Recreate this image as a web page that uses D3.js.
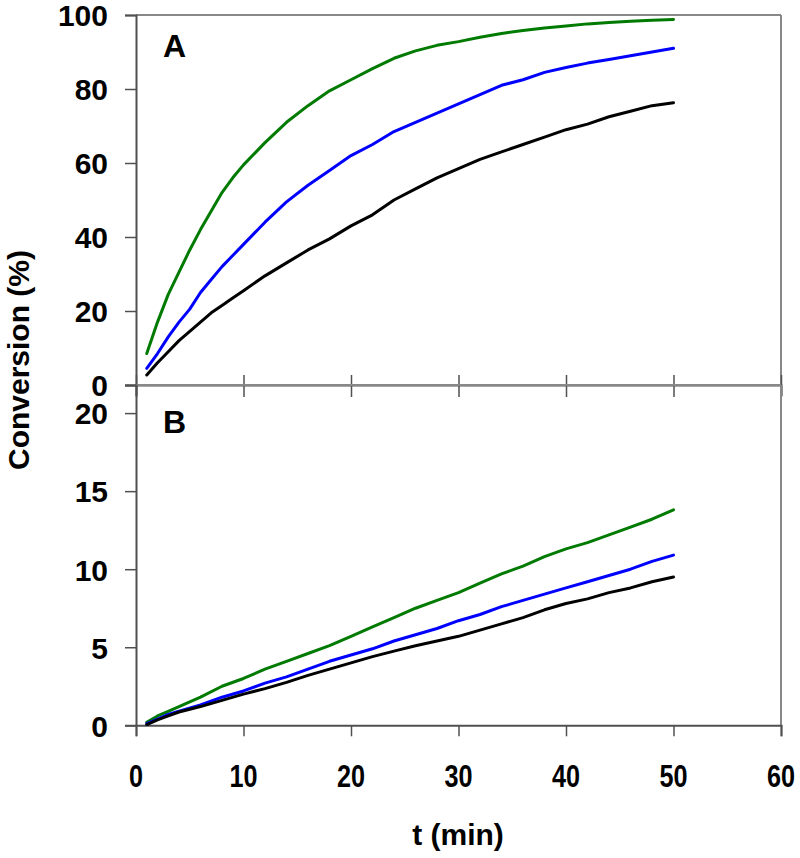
<!DOCTYPE html>
<html><head><meta charset="utf-8">
<script src="https://cdn.jsdelivr.net/npm/d3@7"></script>
<style>body{margin:0;background:#fff}svg{display:block}text{font-family:"Liberation Sans",Arial,sans-serif;font-weight:bold;fill:#000}</style>
</head><body><svg id="c" width="800" height="858"></svg>
<script>
// Panel A data (conversion %, t in min)
const tA = [1,2,3,4,5,6,7,8,9,10,12,14,16,18,20,22,24,26,28,30,32,34,36,38,40,42,44,46,48,50];
const greenA = [8.5,17,24.5,30.5,36.5,42,47,52,56,59.5,65.5,71,75.5,79.5,82.5,85.5,88.3,90.3,91.8,92.8,94,95,95.8,96.5,97,97.6,98,98.3,98.6,98.8];
const blueA  = [4.5,8.5,13,17,20.5,25,28.5,32,35,38,44,49.5,54,58,62,65,68.5,71,73.5,76,78.5,81,82.5,84.5,85.8,87,88,89,90,91];
const blackA = [2.7,6,9,12,14.5,17,19.5,21.5,23.5,25.5,29.5,33,36.5,39.5,43,46,50,53,56,58.5,61,63,65,67,69,70.5,72.5,74,75.5,76.3];
// Panel B data
const tB = [1,2,3,4,6,8,10,12,14,16,18,20,22,24,26,28,30,32,34,36,38,40,42,44,46,48,50];
const greenB = [0.2,0.6,0.9,1.2,1.8,2.5,3.0,3.6,4.1,4.6,5.1,5.7,6.3,6.9,7.5,8.0,8.5,9.1,9.7,10.2,10.8,11.3,11.7,12.2,12.7,13.2,13.8];
const blueB  = [0.1,0.4,0.7,0.9,1.3,1.8,2.2,2.7,3.1,3.6,4.1,4.5,4.9,5.4,5.8,6.2,6.7,7.1,7.6,8.0,8.4,8.8,9.2,9.6,10.0,10.5,10.9];
const blackB = [0.05,0.35,0.6,0.85,1.2,1.6,2.0,2.35,2.75,3.2,3.6,4.0,4.4,4.75,5.1,5.4,5.7,6.1,6.5,6.9,7.4,7.8,8.1,8.5,8.8,9.2,9.5];
const xTicks = [0,10,20,30,40,50,60];
const yTicksA = [0,20,40,60,80,100];
const yTicksB = [0,5,10,15,20];
const colors = ["#007a00","#0000ff","#000000"];

const svg = d3.select("#c");
const L = 136, R = 781;
const x = d3.scaleLinear().domain([0,60]).range([L,R]);
const yA = d3.scaleLinear().domain([0,100]).range([385,15]);
const yB = d3.scaleLinear().domain([0,21.8]).range([725.3,385]);

function panel(y, ticks, t, series, label, bottom, top) {
  svg.append("line").attr("x1",L).attr("x2",R).attr("y1",top).attr("y2",top).attr("stroke","#888").attr("stroke-width",2);
  svg.append("line").attr("x1",R).attr("x2",R).attr("y1",top).attr("y2",bottom).attr("stroke","#888").attr("stroke-width",2);
  const ya = svg.append("g").attr("transform",`translate(${L},0)`)
    .call(d3.axisLeft(y).tickValues(ticks).tickSize(11).tickPadding(17).tickFormat(d3.format("d")));
  ya.select(".domain").attr("stroke","#505050").attr("stroke-width",2);
  ya.selectAll(".tick line").attr("stroke","#505050").attr("stroke-width",1.5);
  ya.selectAll(".tick text").attr("font-size",30).attr("dy","0.36em").style("font-family",'"Liberation Sans",Arial,sans-serif').style("font-weight","bold");
  const xa = svg.append("g").attr("transform",`translate(0,${bottom})`)
    .call(d3.axisBottom(x).tickValues(xTicks).tickSize(11).tickFormat(""));
  xa.select(".domain").attr("stroke","#505050").attr("stroke-width",2);
  xa.selectAll(".tick line").attr("stroke","#505050").attr("stroke-width",1.5);
  if (label==="A") {
    xa.selectAll(".tick line").attr("y1",-10).attr("y2",12);
  }
  const line = d3.line().x((d,i)=>x(t[i])).y(d=>y(d));
  series.forEach((s,k)=>{
    svg.append("path").datum(s).attr("d",line).attr("fill","none")
      .attr("stroke",colors[k]).attr("stroke-width",3).attr("stroke-linejoin","round").attr("stroke-linecap","round");
  });
  svg.append("text").attr("x",163).attr("y",top+(label==="A"?42:48)).attr("font-size",32).text(label);
}
panel(yA, yTicksA, tA, [greenA,blueA,blackA], "A", 385, 15);
panel(yB, yTicksB, tB, [greenB,blueB,blackB], "B", 725.3, 385);

svg.append("g").selectAll("text").data(xTicks).join("text")
  .attr("x",d=>x(d)).attr("y",787).attr("text-anchor","middle").attr("font-size",28)
  .attr("transform",d=>`translate(${x(d)},787) scale(0.9,1.15) translate(${-x(d)},-787)`)
  .text(d=>d);
svg.append("text").attr("x",458).attr("y",845).attr("text-anchor","middle").attr("font-size",30).text("t (min)");
svg.append("text").attr("transform","translate(29,360) rotate(-90)").attr("text-anchor","middle").attr("font-size",30).text("Conversion (%)");
</script></body></html>
